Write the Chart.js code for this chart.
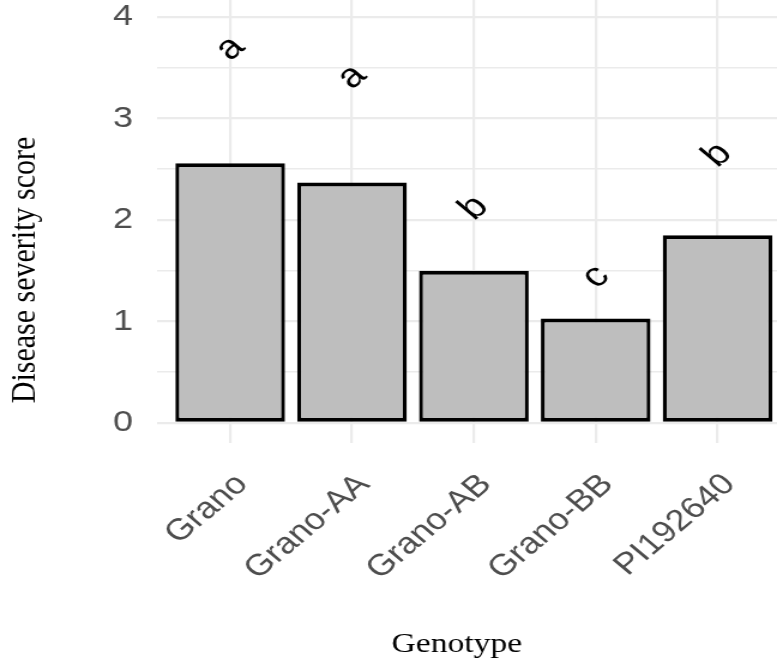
<!DOCTYPE html>
<html>
<head>
<meta charset="utf-8">
<script src="https://cdn.jsdelivr.net/npm/chart.js@4/dist/chart.umd.min.js"></script>
<style>
  html, body { margin: 0; padding: 0; background: #fff; overflow: hidden; }
</style>
</head>
<body>
<!-- the picture is stretched sideways, so the canvas is drawn narrow and widened by css -->
<canvas id="chart" width="648" height="662" style="width:777px;height:662px;display:block"></canvas>
<script>
// ---------------- data ----------------
const genotypes = ["Grano", "Grano-AA", "Grano-AB", "Grano-BB", "PI192640"];
const severity = [2.56, 2.37, 1.50, 1.03, 1.85];
const groupLetters = ["a", "a", "b", "c", "b"];
const letterHeights = [3.69, 3.41, 2.12, 1.44, 2.64];
const yTicks = [0, 0.5, 1, 1.5, 2, 2.5, 3, 3.5, 4];
const xTitle = "Genotype";
const yTitle = "Disease severity score";

const sansFont = "'Liberation Sans', Arial, sans-serif";
const serifFont = "'Liberation Serif', 'Times New Roman', serif";

// letters over the bars and the two axis titles
const annotatePlugin = {
  id: "annotate",
  afterDatasetsDraw(chart) {
    const { ctx, scales: { x, y } } = chart;
    ctx.save();
    ctx.fillStyle = "#000";
    ctx.textAlign = "center";
    ctx.textBaseline = "middle";
    ctx.font = "34px " + sansFont;
    groupLetters.forEach((letter, i) => {
      ctx.save();
      ctx.translate(x.getPixelForValue(i), y.getPixelForValue(letterHeights[i]));
      ctx.rotate(-Math.PI / 4);
      ctx.fillText(letter, 0, 0);
      ctx.restore();
    });

    ctx.font = "30px " + serifFont;
    ctx.save();
    ctx.translate(21, 270);
    ctx.rotate(-Math.PI / 2);
    ctx.fillText(yTitle, 0, 0);
    ctx.restore();

    ctx.font = "28px " + serifFont;
    ctx.textBaseline = "alphabetic";
    ctx.fillText(xTitle, 381, 652);
    ctx.restore();
  }
};

new Chart(document.getElementById("chart"), {
  type: "bar",
  data: {
    datasets: [{
      data: genotypes.map((g, i) => ({ x: i, y: severity[i] })),
      backgroundColor: "#bebebe",
      borderColor: "#000",
      borderWidth: { top: 4, bottom: 4, left: 3.3, right: 3.3 },
      borderSkipped: false,
      barPercentage: 0.9,
      categoryPercentage: 1
    }]
  },
  options: {
    responsive: false,
    devicePixelRatio: 1,
    animation: false,
    layout: { padding: 0 },
    plugins: {
      legend: { display: false },
      tooltip: { enabled: false }
    },
    scales: {
      x: {
        type: "linear",
        min: -0.6,
        max: 4.488,
        offset: false,
        afterBuildTicks: (axis) => { axis.ticks = genotypes.map((g, i) => ({ value: i })); },
        afterFit: (axis) => {
          axis.height = 219;
          axis.paddingLeft = 0;
          axis.paddingRight = 0;
        },
        grid: { color: "#ebebeb", lineWidth: 2.2, offset: false, drawTicks: false },
        border: { display: false },
        ticks: {
          autoSkip: false,
          minRotation: 45,
          maxRotation: 45,
          padding: 24,
          labelOffset: 10,
          color: "#4d4d4d",
          font: { family: sansFont, size: 30 },
          callback: (value) => genotypes[value]
        }
      },
      y: {
        min: -0.197,
        max: 4.1675,
        afterBuildTicks: (axis) => { axis.ticks = yTicks.map((v) => ({ value: v })); },
        afterFit: (axis) => {
          axis.width = 131;
          axis.paddingTop = 0;
          axis.paddingBottom = 0;
        },
        grid: {
          color: "#ebebeb",
          drawTicks: false,
          lineWidth: (c) => (c.tick && Number.isInteger(c.tick.value) ? 2.3 : 1.6)
        },
        border: { display: false },
        ticks: {
          autoSkip: false,
          padding: 20,
          color: "#4d4d4d",
          font: { family: sansFont, size: 30 },
          callback: (value) => (Number.isInteger(value) ? value : "")
        }
      }
    }
  },
  plugins: [annotatePlugin]
});
</script>
</body>
</html>
